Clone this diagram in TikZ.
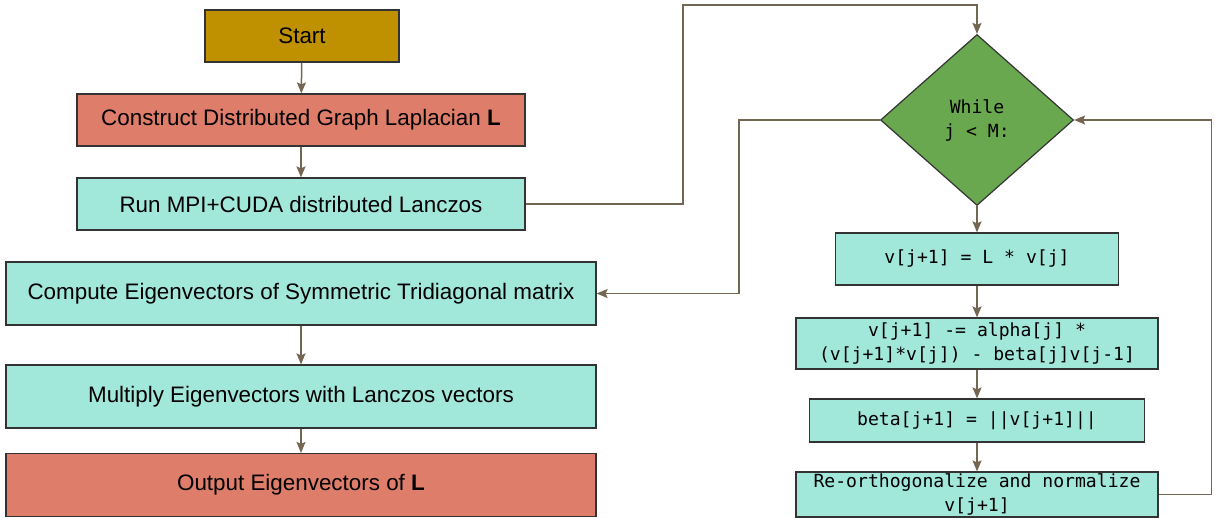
\documentclass[tikz,border=0pt]{standalone}
\usepackage{fontspec}
\setmainfont{Liberation Sans}
\setmonofont{DejaVu Sans Mono}
\usetikzlibrary{shapes.geometric,arrows.meta}

\definecolor{startgold}{HTML}{BF9000}
\definecolor{salmon}{HTML}{DF7D6B}
\definecolor{aqua}{HTML}{A2E8DA}
\definecolor{leaf}{HTML}{6AA84F}
\definecolor{wire}{HTML}{736652}

\tikzset{
    stepbox/.style={draw=black!80, line width=1.2pt, inner sep=0pt, align=center,
        font=\fontsize{22.4}{26}\selectfont},
    codebox/.style={stepbox, font=\ttfamily\fontsize{18.1}{24}\selectfont},
    link/.style={draw=wire, line width=1.5pt, -{Stealth[length=11pt,width=9pt,inset=2pt]}}
}

\begin{document}
\begin{tikzpicture}[x=1pt, y=-1pt]
    \useasboundingbox (0,0) rectangle (1215,518);

    % left column
    \node[stepbox, fill=startgold, minimum width=194pt, minimum height=52pt] (start) at (302,36) {Start};
    \node[stepbox, fill=salmon, minimum width=448pt, minimum height=52pt] (laplacian) at (301,120) {Construct Distributed Graph Laplacian \textbf{L}};
    \node[stepbox, fill=aqua, minimum width=448pt, minimum height=52pt] (lanczos) at (301,204) {Run MPI+CUDA distributed Lanczos};
    \node[stepbox, fill=aqua, minimum width=590pt, minimum height=63pt] (tridiag) at (301,293.5) {Compute Eigenvectors of Symmetric Tridiagonal matrix};
    \node[stepbox, fill=aqua, minimum width=590pt, minimum height=63pt] (multiply) at (301,396.5) {Multiply Eigenvectors with Lanczos vectors};
    \node[stepbox, fill=salmon, minimum width=590pt, minimum height=63pt] (output) at (301,485) {Output Eigenvectors of \textbf{L}};

    % right column
    \node[diamond, draw=black!80, line width=1.2pt, fill=leaf, inner sep=0pt, align=center,
        minimum width=193pt, minimum height=171pt, font=\ttfamily\fontsize{18.1}{24}\selectfont] (loop) at (977,120) {While\\j < M:};
    \node[codebox, fill=aqua, minimum width=283pt, minimum height=52pt] (matvec) at (977,259) {v[j+1] = L * v[j]};
    \node[codebox, fill=aqua, minimum width=362pt, minimum height=51pt] (ortho) at (977,343.5) {v[j+1] -= alpha[j] *\\(v[j+1]*v[j]) - beta[j]v[j-1]};
    \node[codebox, fill=aqua, minimum width=335pt, minimum height=43pt] (norm) at (977,420.5) {beta[j+1] = ||v[j+1]||};
    \node[codebox, fill=aqua, minimum width=362pt, minimum height=45pt] (reortho) at (977,494.5) {Re-orthogonalize and normalize\\v[j+1]};

    \coordinate (detour) at (683,5);

    \draw[link] (start) -- (laplacian);
    \draw[link] (laplacian) -- (lanczos);
    \draw[link] (lanczos.east) -| (detour) -| (loop.north);
    \draw[link] (loop.west) -- ++(-141,0) |- (tridiag.east);
    \draw[link] (tridiag) -- (multiply);
    \draw[link] (multiply) -- (output);
    \draw[link] (loop.south) -- (matvec);
    \draw[link] (matvec) -- (ortho);
    \draw[link] (ortho) -- (norm);
    \draw[link] (norm) -- (reortho);
    \draw[link] (reortho.east) -- ++(53,0) |- (loop.east);
\end{tikzpicture}
\end{document}
